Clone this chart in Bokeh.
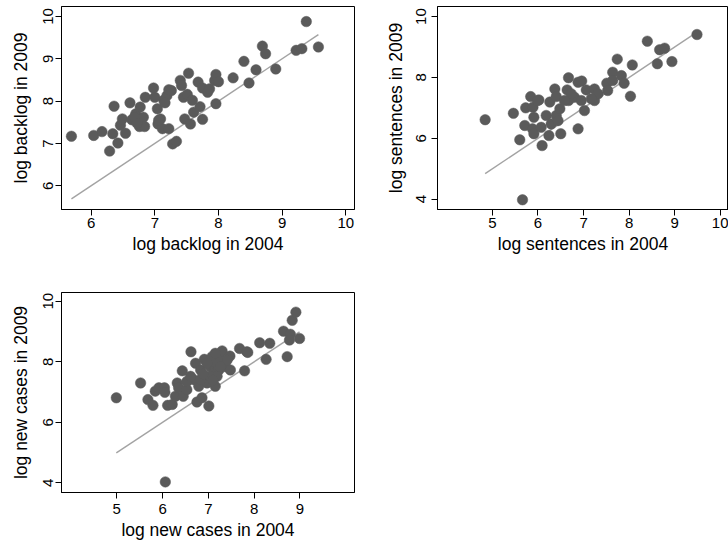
from bokeh.plotting import figure
from bokeh.layouts import column, row
from bokeh.models import Range1d, FixedTicker, ColumnDataSource
from bokeh.embed import file_html
from bokeh.resources import INLINE

# Backlog (log), 2004 vs 2009
backlog_2004 = [5.69, 6.04, 6.17, 6.36, 6.34, 6.29, 6.42, 6.46, 6.49, 6.54,
                6.61, 6.64, 6.70, 6.74, 6.77, 6.76, 6.82, 6.84, 6.85, 6.98,
                7.00, 7.04, 7.05, 7.09, 7.12, 7.14, 7.19, 7.22, 7.26, 7.22,
                7.28, 7.34, 7.40, 7.42, 7.53, 7.45, 7.51, 7.47, 7.56, 7.59,
                7.61, 7.71, 7.68, 7.75, 7.75, 7.83, 7.86, 7.94, 7.96, 8.00,
                7.96, 8.23, 8.40, 8.48, 8.59, 8.69, 8.74, 8.90, 9.22, 9.31,
                9.38, 9.57, 6.68, 6.72, 7.06, 7.16]
backlog_2009 = [7.17, 7.19, 7.28, 7.88, 7.23, 6.82, 7.01, 7.43, 7.58, 7.24,
                7.96, 7.56, 7.70, 7.54, 7.86, 7.40, 7.62, 7.40, 8.09, 8.31,
                8.09, 7.82, 7.46, 7.58, 7.35, 8.02, 8.13, 8.27, 8.25, 7.35,
                6.99, 7.05, 8.49, 8.37, 8.66, 8.09, 8.16, 7.58, 7.46, 8.02,
                7.74, 7.87, 8.45, 8.31, 7.57, 8.21, 8.29, 8.49, 8.63, 8.46,
                7.94, 8.55, 8.94, 8.43, 8.74, 9.30, 9.12, 8.76, 9.20, 9.24,
                9.88, 9.28, 7.62, 7.48, 7.55, 7.96]

# Sentences (log), 2004 vs 2009
sentences_2004 = [4.84, 5.66, 5.46, 5.60, 5.71, 5.73, 5.84, 5.89, 5.91, 5.88,
                  5.91, 6.02, 6.07, 6.09, 6.18, 6.24, 6.26, 6.29, 6.37, 6.40,
                  6.40, 6.48, 6.50, 6.44, 6.64, 6.67, 6.67, 6.80, 6.88, 6.88,
                  6.95, 6.96, 7.02, 7.06, 7.24, 7.24, 7.51, 7.53, 7.64, 7.64,
                  7.74, 7.83, 7.89, 8.03, 8.07, 8.40, 8.62, 8.67, 8.78, 8.94,
                  9.49, 6.73, 7.32, 6.58, 7.17, 5.99]
sentences_2009 = [6.61, 3.98, 6.82, 5.95, 6.42, 7.00, 7.37, 7.02, 6.69, 6.31,
                  6.15, 7.26, 6.36, 5.76, 6.75, 6.09, 7.19, 6.47, 7.62, 7.37,
                  6.75, 6.97, 6.15, 6.58, 7.59, 7.99, 7.24, 7.35, 7.84, 6.31,
                  7.24, 7.88, 6.91, 7.59, 7.62, 7.24, 7.81, 7.57, 8.17, 7.90,
                  8.60, 8.06, 7.81, 7.38, 8.41, 9.19, 8.45, 8.91, 8.96, 8.52,
                  9.41, 7.46, 7.46, 7.24, 7.30, 7.24]

# New cases (log), 2004 vs 2009
cases_2004 = [4.99, 5.52, 5.68, 5.79, 5.84, 5.92, 6.04, 6.05, 6.06, 6.11,
              6.21, 6.28, 6.32, 6.35, 6.43, 6.45, 6.53, 6.62, 6.68, 6.72,
              6.75, 6.79, 6.83, 6.86, 6.91, 6.93, 6.97, 7.01, 7.04, 7.08,
              7.12, 7.15, 7.19, 7.23, 7.26, 7.30, 7.37, 7.47, 7.48, 7.68,
              7.79, 7.84, 8.12, 8.26, 8.34, 8.64, 8.72, 8.79, 8.77, 8.83,
              8.91, 8.99, 6.83, 7.04, 7.19, 7.41, 6.97, 7.26, 6.53, 6.61,
              7.15, 7.86, 6.88, 7.10]
cases_2009 = [6.81, 7.30, 6.75, 6.56, 7.03, 7.14, 7.14, 6.99, 4.03, 6.56,
              6.59, 6.86, 7.30, 7.14, 7.70, 6.86, 7.08, 8.33, 7.41, 7.95,
              6.67, 7.19, 7.73, 6.81, 8.08, 7.52, 7.30, 6.54, 7.84, 8.17,
              7.63, 7.19, 7.95, 7.73, 8.12, 8.36, 7.84, 8.19, 7.73, 8.44,
              7.70, 8.33, 8.63, 8.08, 8.61, 9.01, 8.17, 8.91, 8.72, 9.37,
              9.64, 8.77, 7.41, 7.52, 7.52, 8.06, 7.95, 7.84, 7.35, 7.52,
              8.28, 8.31, 7.60, 7.40]

FONT = "Liberation Sans"
DOT = "#5a5a5a"
REF_LINE = "#a3a3a3"


def panel(x, y, xlabel, ylabel, xr, yr, xticks, yticks, borders, standoffs):
    left, right, top, bottom = borders
    x_tick_gap, x_label_gap, y_tick_gap, y_label_gap = standoffs
    p = figure(width=364, height=271, output_backend="svg", toolbar_location=None,
               x_range=Range1d(*xr), y_range=Range1d(*yr),
               min_border_left=left, min_border_right=right,
               min_border_top=top, min_border_bottom=bottom)
    p.grid.visible = False
    p.outline_line_color = "black"
    p.outline_line_width = 1
    p.background_fill_color = "white"
    p.border_fill_color = "white"

    for ax in (p.xaxis[0], p.yaxis[0]):
        ax.major_label_text_font = FONT
        ax.major_label_text_font_size = "15px"
        ax.major_label_text_color = "black"
        ax.axis_label_text_font = FONT
        ax.axis_label_text_font_size = "17.5px"
        ax.axis_label_text_font_style = "normal"
        ax.axis_label_text_color = "black"
        ax.minor_tick_line_color = None
        ax.major_tick_in = 0
        ax.major_tick_out = 6
        ax.major_tick_line_color = "black"
        ax.axis_line_color = "black"
    p.xaxis.ticker = FixedTicker(ticks=xticks)
    p.yaxis.ticker = FixedTicker(ticks=yticks)
    p.xaxis.axis_label = xlabel
    p.yaxis.axis_label = ylabel
    p.xaxis.major_label_standoff = x_tick_gap
    p.xaxis.axis_label_standoff = x_label_gap
    p.yaxis.major_label_standoff = y_tick_gap
    p.yaxis.axis_label_standoff = y_label_gap
    p.yaxis.major_label_orientation = "vertical"

    # 45-degree reference line across the observed 2004 range
    lo, hi = min(x), max(x)
    p.line([lo, hi], [lo, hi], line_color=REF_LINE, line_width=1.4)
    src = ColumnDataSource(dict(x=x, y=y))
    p.scatter("x", "y", source=src, size=10.5, fill_color=DOT, line_color=DOT,
              line_width=0.5)
    return p


p1 = panel(backlog_2004, backlog_2009, "log backlog in 2004", "log backlog in 2009",
           (5.534, 10.137), (5.44, 10.236), [6, 7, 8, 9, 10], [6, 7, 8, 9, 10],
           (61, 10, 6, 62), (2, 3, 2, 10))
p2 = panel(sentences_2004, sentences_2009, "log sentences in 2004", "log sentences in 2009",
           (3.794, 10.182), (3.66, 10.33), [5, 6, 7, 8, 9, 10], [4, 6, 8, 10],
           (73, 0, 6, 62), (2, 3, 5, 8))
p3 = panel(cases_2004, cases_2009, "log new cases in 2004", "log new cases in 2009",
           (3.793, 10.19), (3.68, 10.29), [5, 6, 7, 8, 9], [4, 6, 8, 10],
           (61, 10, 21, 48), (5, 3, 2, 10))

layout = column(row(p1, p2, spacing=0), row(p3, spacing=0), spacing=0)

open("out.html", "w").write(file_html(layout, INLINE))
